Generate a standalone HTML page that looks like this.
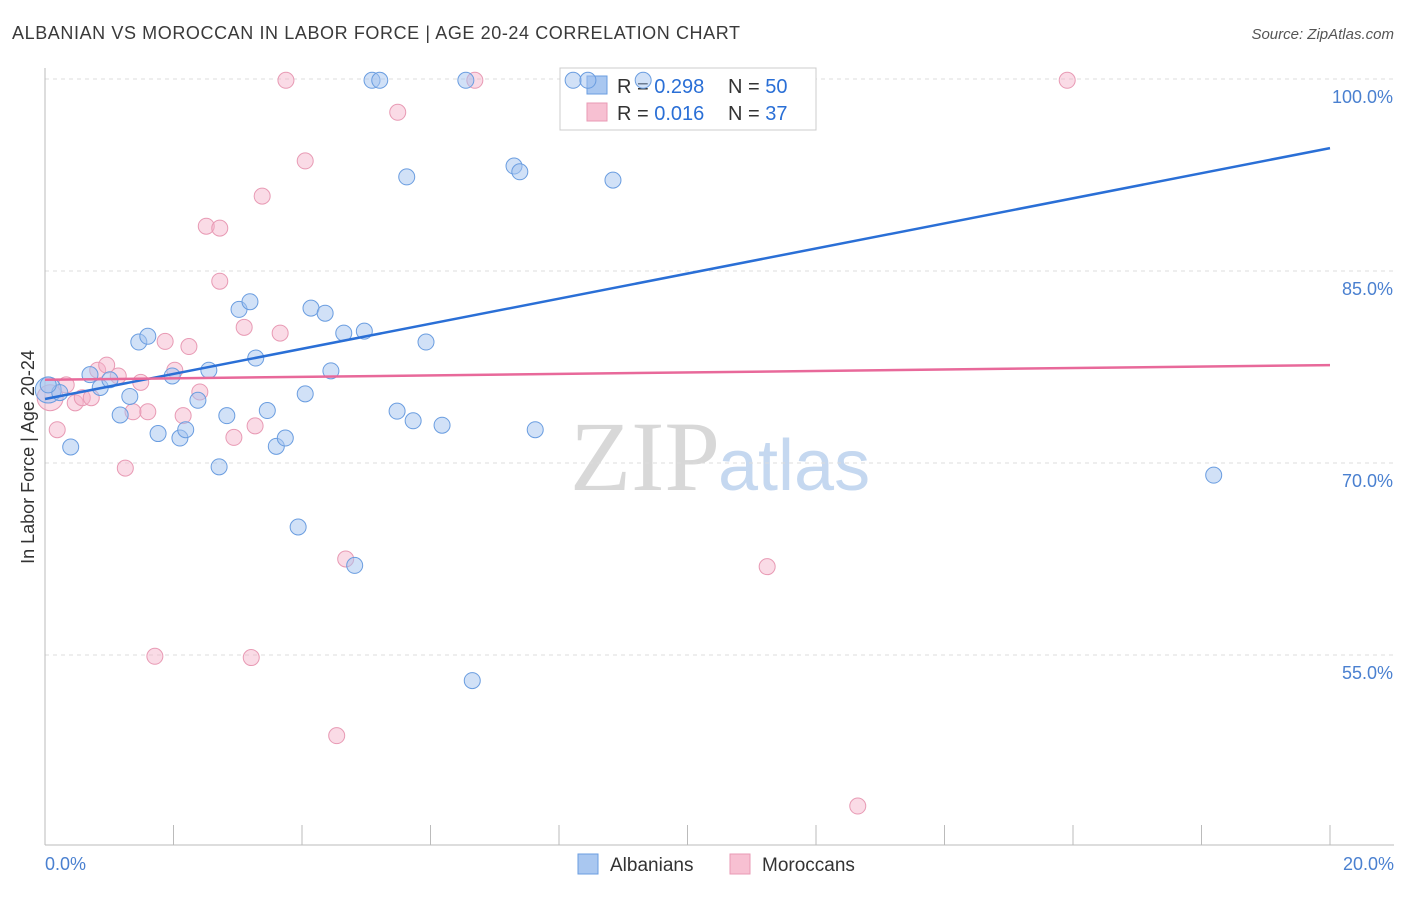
<!DOCTYPE html>
<html><head><meta charset="utf-8"><style>
body{margin:0;background:#fff;width:1406px;height:892px;overflow:hidden;font-family:"Liberation Sans",sans-serif}
</style></head><body>
<svg id="chart" width="1406" height="892" xmlns="http://www.w3.org/2000/svg" font-family="Liberation Sans, sans-serif">
<text x="12" y="39" font-size="18" fill="#3a3a3a" textLength="728">ALBANIAN VS MOROCCAN IN LABOR FORCE | AGE 20-24 CORRELATION CHART</text>
<text x="1394" y="39" font-size="15" fill="#555" font-style="italic" text-anchor="end">Source: ZipAtlas.com</text>
<text x="720" y="490" font-size="100" text-anchor="end" fill="#d8d8d8" font-family="Liberation Serif, serif">ZIP</text>
<text x="718" y="490" font-size="72" fill="#c5d8f0">atlas</text>
<text transform="translate(34,457) rotate(-90)" font-size="18" fill="#333" text-anchor="middle">In Labor Force | Age 20-24</text>
<g id="grid"></g>
<g>
<rect x="560" y="68" width="256" height="62" fill="#fff" stroke="#ccc"/>
<rect x="587" y="76" width="20" height="18" fill="#a9c7f0" stroke="#6a9de0"/>
<rect x="587" y="103" width="20" height="18" fill="#f7c0d2" stroke="#e89ab4"/>
<text x="617" y="93" font-size="20" fill="#333">R = <tspan fill="#2a6fd6">0.298</tspan></text>
<text x="728" y="93" font-size="20" fill="#333">N = <tspan fill="#2a6fd6">50</tspan></text>
<text x="617" y="120" font-size="20" fill="#333">R = <tspan fill="#2a6fd6">0.016</tspan></text>
<text x="728" y="120" font-size="20" fill="#333">N = <tspan fill="#2a6fd6"> 37</tspan></text>
</g>
<g id="pts"></g><g id="lines"></g>
<g>
<rect x="578" y="854" width="20" height="20" fill="#a9c7f0" stroke="#6a9de0"/>
<text x="610" y="871" font-size="19" fill="#333">Albanians</text>
<rect x="730" y="854" width="20" height="20" fill="#f7c0d2" stroke="#e89ab4"/>
<text x="762" y="871" font-size="19" fill="#333">Moroccans</text>
</g>
</svg>
<script>
const yTicks=[100,85,70,55];
const xTickLabels=["0.0%","20.0%"];
const blueX=[0.05,0.23,0.40,0.70,0.86,1.01,1.17,1.32,1.46,1.60,1.76,1.98,2.10,2.19,2.38,2.55,2.71,2.83,3.02,3.19,3.28,3.46,3.60,3.74,3.94,4.05,4.14,4.36,4.45,4.65,4.82,4.97,5.09,5.21,5.48,5.63,5.73,5.93,6.18,6.55,6.65,7.30,7.39,7.63,8.22,8.45,8.84,9.31,18.19,0.05];
const blueY=[75.7,75.5,71.25,76.9,75.9,76.5,73.75,75.2,79.45,79.9,72.3,76.8,71.95,72.6,74.9,77.25,69.7,73.7,82.0,82.6,78.2,74.1,71.3,71.95,65.0,75.4,82.1,81.7,77.2,80.15,62.0,80.3,99.9,99.9,74.05,92.35,73.3,79.45,72.95,99.9,53.0,93.2,92.75,72.6,99.9,99.9,92.1,99.9,69.05,76.1];
const pinkX=[0.08,0.19,0.33,0.47,0.58,0.72,0.82,0.96,1.14,1.25,1.37,1.49,1.60,1.71,1.87,2.02,2.15,2.24,2.41,2.51,2.72,2.72,2.94,3.10,3.21,3.27,3.38,3.66,3.75,4.05,4.54,4.68,5.49,6.69,11.24,12.65,15.91];
const pinkY=[75.1,72.6,76.1,74.7,75.1,75.1,77.25,77.65,76.8,69.6,74.0,76.3,74.0,54.9,79.5,77.25,73.7,79.1,75.55,88.5,88.35,84.2,72.0,80.6,54.8,72.9,90.85,80.15,99.9,93.6,48.7,62.5,97.4,99.9,61.9,43.2,99.9];
const blueLine=[75.0,94.6];
const pinkLine=[76.5,77.65];
const NS="http://www.w3.org/2000/svg";
const xs=v=>45+v*64.25, ys=v=>79+(100-v)*12.8;
function mk(tag,at,parent){const e=document.createElementNS(NS,tag);for(const k in at)e.setAttribute(k,at[k]);parent.appendChild(e);return e;}
const grid=document.getElementById('grid');
yTicks.forEach(t=>{
 const l=mk('line',{x1:45,x2:1394,y1:ys(t),y2:ys(t),stroke:'#ddd','stroke-dasharray':'4,4'},grid);
 
 
 const tx=mk('text',{x:1393,y:ys(t)+24,'font-size':18,fill:'#4a80d0','text-anchor':'end'},grid);
 tx.textContent=t.toFixed(1)+'%';
 
 
});
let ax=mk('line',{x1:45,x2:45,y1:68,y2:845,stroke:'#bbb'},grid);


ax=mk('line',{x1:45,x2:1394,y1:845,y2:845,stroke:'#bbb'},grid);


for(let i=0;i<=10;i++){const t=mk('line',{x1:xs(i*2),x2:xs(i*2),y1:825,y2:845,stroke:'#bbb'},grid);
 
 }
xTickLabels.forEach((s,i)=>{const t=mk('text',{x:i?1394:45,y:870,'font-size':18,fill:'#4a80d0','text-anchor':i?'end':'start'},grid);t.textContent=s;
 
 });
const pts=document.getElementById('pts');
function dots(X,Y,fill,stroke,name){X.forEach((x,i)=>{const big=(i===0);const c=mk('circle',{cx:xs(x),cy:ys(Y[i]),r:big?13:8,fill:fill,stroke:stroke,'stroke-width':1},pts);
 
 });}
dots(pinkX,pinkY,'rgba(245,175,200,0.45)','#e89ab4','moroccan-point');
dots(blueX,blueY,'rgba(164,196,240,0.5)','#6a9de0','albanian-point');
const lines=document.getElementById('lines');
let ln=mk('line',{x1:xs(0),y1:ys(blueLine[0]),x2:xs(20),y2:ys(blueLine[1]),stroke:'#2a6fd6','stroke-width':2.5},lines);


ln=mk('line',{x1:xs(0),y1:ys(pinkLine[0]),x2:xs(20),y2:ys(pinkLine[1]),stroke:'#e8699a','stroke-width':2.5},lines);


</script>
</body></html>
